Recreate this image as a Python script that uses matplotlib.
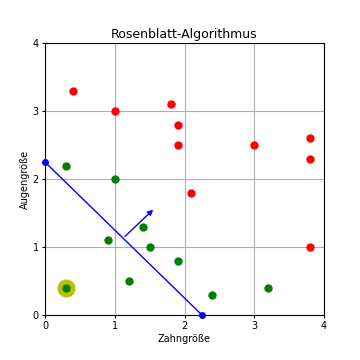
import matplotlib.pyplot as plt

# Klasse rot
red_x = [0.4, 1.0, 1.8, 1.9, 1.9, 2.1, 3.0, 3.8, 3.8, 3.8]
red_y = [3.3, 3.0, 3.1, 2.8, 2.5, 1.8, 2.5, 2.6, 2.3, 1.0]

# Klasse gruen
green_x = [0.3, 1.0, 0.9, 1.4, 1.5, 1.9, 1.2, 2.4, 3.2, 0.3]
green_y = [2.2, 2.0, 1.1, 1.3, 1.0, 0.8, 0.5, 0.3, 0.4, 0.4]

# aktueller Punkt
cur_x, cur_y = 0.3, 0.4

# Trenngerade und Normalenvektor
line_x = [0.0, 2.25]
line_y = [2.25, 0.0]
arrow_start = (1.12, 1.13)
arrow_end = (1.58, 1.58)

fig = plt.figure(figsize=(3.6, 3.6), dpi=100)
ax = fig.add_axes([0.125, 0.125, 0.775, 0.755])

ax.plot(cur_x, cur_y, 'o', color='y', markersize=12, zorder=2)
ax.plot(red_x, red_y, 'o', color='r', markersize=5, zorder=3)
ax.plot(green_x, green_y, 'o', color='g', markersize=5, zorder=3)
ax.plot(line_x, line_y, '-o', color='b', linewidth=1, markersize=4, zorder=4, clip_on=False)
ax.annotate('', xy=arrow_end, xytext=arrow_start,
            arrowprops=dict(arrowstyle='-|>', color='b', lw=1, mutation_scale=8))

ax.set_xlim(0, 4)
ax.set_ylim(0, 4)
ax.set_xticks([0, 1, 2, 3, 4])
ax.set_yticks([0, 1, 2, 3, 4])
ax.tick_params(labelsize=7, length=2.5, pad=2)
ax.set_xlabel('Zahngröße', fontsize=7, labelpad=2)
ax.set_ylabel('Augengröße', fontsize=7, labelpad=2)
ax.set_title('Rosenblatt-Algorithmus', fontsize=9, pad=4)
ax.grid(True)

plt.savefig('out.png', dpi=100)
